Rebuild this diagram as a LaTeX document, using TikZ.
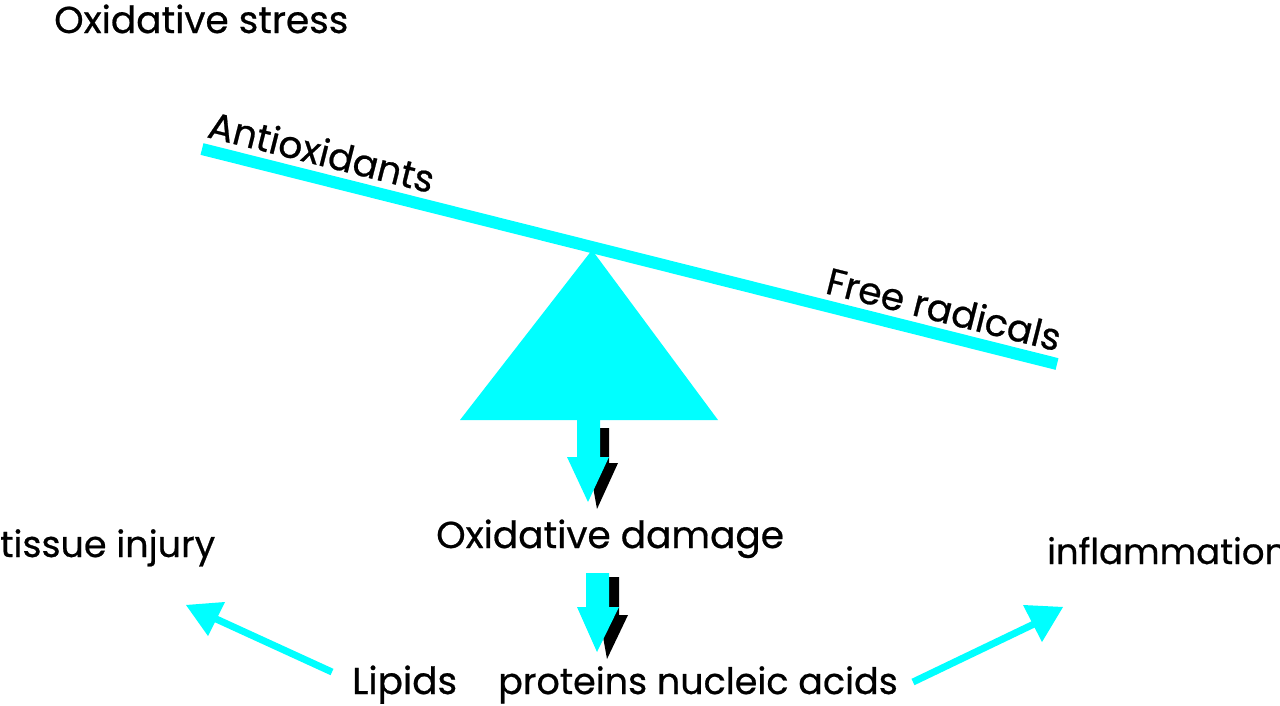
\documentclass[tikz,border=0pt]{standalone}
\usepackage{fontspec}
\setmainfont[FakeBold=0.6]{Poppins}
\definecolor{cy}{HTML}{00FFFF}
\begin{document}
\begin{tikzpicture}[x=1pt,y=-1pt,
  lbl/.style={inner sep=0pt,font=\fontsize{37.5}{37.5}\selectfont},
  lblsm/.style={inner sep=0pt,font=\fontsize{36.5}{36.5}\selectfont},
  thinline/.style={cy,line width=7pt}]
\useasboundingbox (0,0) rectangle (1280,705);
% beam
\coordinate (bl) at (202,149);
\coordinate (br) at (1057,364);
\draw[cy,line width=12pt] (bl) -- (br);
% fulcrum
\fill[cy] (592,250) -- (718,420) -- (460,420) -- cycle;
% arrow 1 shadow + arrow
\fill[black] (600,428) -- (609,428) -- (609,463) -- (618,463) -- (597,509) -- (590,470) -- cycle;
\fill[cy] (577,415) -- (600,415) -- (600,457) -- (609,457) -- (588,502) -- (567,457) -- (577,457) -- cycle;
% arrow 2 shadow + arrow
\fill[black] (609,577) -- (619,577) -- (619,615) -- (628,615) -- (607,659) -- (600,620) -- cycle;
\fill[cy] (586,573) -- (609,573) -- (609,607) -- (619,607) -- (597,652) -- (577,607) -- (586,607) -- cycle;
% texts
\node[lbl,anchor=base west] (os) at (54,33) {Oxidative stress};
\node[lbl,anchor=base west,rotate=-14.1] (ao) at (206,137) {Antioxidants};
\node[lbl,anchor=base west,rotate=-14.1] (fr) at (824,293) {Free radicals};
\node[lbl,anchor=base west] (od) at (436,548) {Oxidative damage};
\node[lblsm,anchor=base west] (ti) at (0,557) {tissue injury};
\node[lblsm,anchor=base west,font=\fontsize{35.5}{35.5}\selectfont] (inf) at (1047,564) {inflammation};
\node[lbl,anchor=base west] (lip) at (352,694) {Lipids};
\node[lblsm,anchor=base west] (pna) at (498,694) {proteins nucleic acids};
% side arrows
\coordinate (s1) at (332,672);
\coordinate (m1) at (214,618);
\draw[thinline] (s1) -- (m1);
\fill[cy] (186,605) -- (225,602) -- (208,636) -- cycle;
\coordinate (s2) at (913,682);
\coordinate (m2) at (1034,624);
\draw[thinline] (s2) -- (m2);
\fill[cy] (1063,607) -- (1023,605) -- (1042,642) -- cycle;
\end{tikzpicture}
\end{document}
